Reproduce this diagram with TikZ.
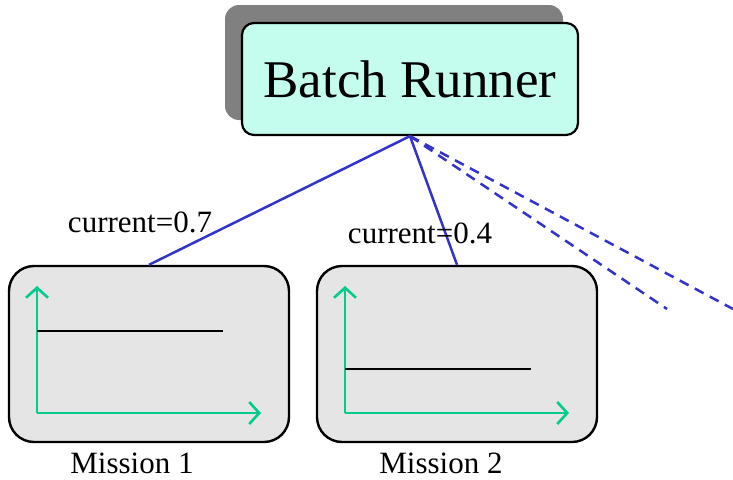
\documentclass[tikz,border=0pt]{standalone}
\usepackage{fontspec}
\setmainfont{Liberation Serif}
\usetikzlibrary{arrows.meta}

\definecolor{runnercyan}{HTML}{C4FDEE}
\definecolor{missiongray}{HTML}{E5E5E5}
\definecolor{linkblue}{HTML}{3333CC}
\definecolor{axisgreen}{HTML}{00CC8C}

\tikzstyle{runner} = [rectangle, draw, line width=2.2pt, fill=runnercyan, text centered, rounded corners=12pt, minimum width=336pt, minimum height=112pt, font=\fontsize{53}{60}\selectfont]
\tikzstyle{shade} = [rectangle, fill=gray, rounded corners=14pt, minimum width=338pt, minimum height=115pt]
\tikzstyle{mission} = [rectangle, draw, line width=2.4pt, fill=missiongray, rounded corners=25pt, minimum width=280pt, minimum height=176pt]
\tikzstyle{label} = [font=\fontsize{31}{36}\selectfont, inner sep=0pt]
\tikzstyle{link} = [draw=linkblue, line width=2.5pt]
\tikzstyle{axis} = [draw=axisgreen, line width=2.6pt, -{Straight Barb[length=10pt, width=22pt]}]
\tikzstyle{level} = [draw=black, line width=2.6pt]

\begin{document}
\begin{tikzpicture}[x=1pt, y=-1pt]
    \useasboundingbox (0,0) rectangle (733,479);

    %  nodes
    \node [shade] (S) at (394,62.5) {};
    \node [runner] (BR) at (410,79) {Batch Runner};

    \node [mission] (M1) at (149,354) {};
    \node [mission] (M2) at (457,354) {};
    \node [label] (L1) at (132,463) {Mission 1};
    \node [label] (L2) at (441,463) {Mission 2};

    \coordinate (M3) at (667,309);
    \coordinate (M4) at (733,309);

   %-------------------------------------------------------------
    \draw [link] (BR.south) -- (M1.north);
    \draw [link] (BR.south) -- (M2.north);
    \draw [link, dash pattern=on 10pt off 7pt] (BR.south) -- (M3);
    \draw [link, dash pattern=on 10pt off 7pt] (BR.south) -- (M4);

    \node [label] (C1) at (140,222) {current=0.7};
    \node [label] (C2) at (420,233) {current=0.4};

   %-------------------------------------------------------------
    \draw [axis] (37,413) -- (37,286);
    \draw [axis] (37,413) -- (261,413);
    \draw [level] (37,331) -- (223,331);

    \draw [axis] (345,413) -- (345,286);
    \draw [axis] (345,413) -- (569,413);
    \draw [level] (345,369) -- (531,369);

\end{tikzpicture}
\end{document}
